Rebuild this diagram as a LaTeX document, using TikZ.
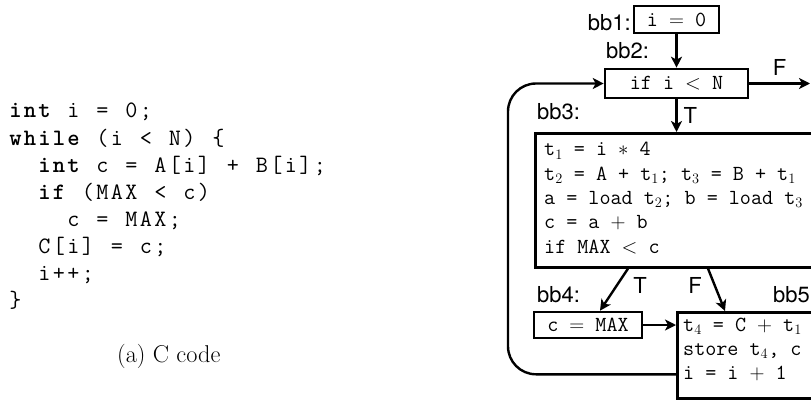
\documentclass[tikz,border=0pt]{standalone}
\usepackage{fontspec}
\usetikzlibrary{arrows.meta}
\newfontfamily\heros{TeX Gyre Heros}
\newcommand\rtt{\fontsize{21.5}{24.3}\selectfont\ttfamily}
\newcommand\lsf{\fontsize{22}{26}\selectfont\heros}
\newcommand\lcode{\fontsize{23.5}{27}\selectfont\ttfamily}
\newcommand\capfont{\fontsize{24.3}{29}\selectfont\rmfamily}
\ExplSyntaxOn
\NewDocumentCommand\fx{m}{\str_map_inline:nn{#1}{\makebox[14.5pt][c]{##1}}}
\ExplSyntaxOff
\newcommand\fb[1]{\makebox[14.5pt][c]{#1}}
\tikzset{
  bx/.style={draw, line width=2.6pt, inner sep=0pt, font=\rtt},
  lbl/.style={font=\lsf, inner sep=0pt},
  tl/.style={font=\rtt, inner sep=0pt, anchor=base west},
  cl/.style={font=\lcode, inner sep=0pt, anchor=base west},
  arr/.style={-{Stealth[length=11pt,width=11pt,inset=3pt]}, line width=2.4pt},
}
\begin{document}
\begin{tikzpicture}[x=1pt,y=-1pt]
\useasboundingbox (0,0) rectangle (811,401);
\clip (0,0) rectangle (811,401);
% C code
\node[cl] (c1) at (8,118) {\textbf{\fx{int}}\fx{ i = 0;}};
\node[cl] (c2) at (8,145.1) {\textbf{\fx{while}}\fx{ (i < N) }\fb{\{}};
\node[cl] (c3) at (37,172.2) {\textbf{\fx{int}}\fx{ c = A[i] + B[i];}};
\node[cl] (c4) at (37,199.3) {\textbf{\fx{if}}\fx{ (MAX < c)}};
\node[cl] (c5) at (66,226.4) {\fx{c = MAX;}};
\node[cl] (c6) at (37,253.5) {\fx{C[i] = c;}};
\node[cl] (c7) at (37,280.6) {\fx{i++;}};
\node[cl] (c8) at (8,307.7) {\fb{\}}};
\node[font=\capfont, inner sep=0pt, anchor=base west] (cap) at (117,362) {(a) C code};
% CFG
\node[bx, minimum width=85pt, minimum height=27pt] (bb1) at (676.5,19.5) {i $=$ 0};
\node[bx, minimum width=143pt, minimum height=29pt] (bb2) at (676.5,83.5) {if i $<$ N};
\node[bx, minimum width=282pt, minimum height=134pt, anchor=north west] (bb3) at (534,132) {};
\node[bx, minimum width=108pt, minimum height=26pt] (bb4) at (588,325) {c $=$ MAX};
\node[bx, minimum width=144pt, minimum height=86pt, anchor=north west] (bb5) at (676,311) {};
% block texts
\node[tl] (t3a) at (544,156) {t$_1$ = i $*$ 4};
\node[tl] (t3b) at (544,180.3) {t$_2$ = A + t$_1$; t$_3$ = B + t$_1$};
\node[tl] (t3c) at (544,204.6) {a = load t$_2$; b = load t$_3$};
\node[tl] (t3d) at (544,228.9) {c = a $+$ b};
\node[tl] (t3e) at (544,253.2) {if MAX $<$ c};
\node[tl] (t5a) at (683,331) {t$_4$ = C $+$ t$_1$};
\node[tl] (t5b) at (683,355.3) {store t$_4$, c};
\node[tl] (t5c) at (683,379.6) {i = i $+$ 1};
% labels
\node[lbl, anchor=base east] (l1) at (631,31) {bb1:};
\node[lbl, anchor=base west] (l2) at (606,59) {bb2:};
\node[lbl, anchor=base west] (l3) at (537,120) {bb3:};
\node[lbl, anchor=base west] (l4) at (537,302) {bb4:};
\node[lbl, anchor=base west] (l5) at (773,302) {bb5:};
% edges
\coordinate (fx) at (810,0);
\coordinate (lx) at (508,0);
\draw[arr] (bb1.south) -- (bb2.north);
\draw[arr] (bb2.east) -- (bb2.east -| fx) node[lbl, pos=0.5, above=7pt] (eF1) {F};
\draw[arr] (bb2.south) -- (bb3.north -| bb2.south) node[lbl, pos=0.5, right=6pt] (eT1) {T};
\draw[arr] ([xshift=94pt]bb3.south west) -- ([xshift=12pt]bb4.north);
\draw[arr] ([xshift=174pt]bb3.south west) -- ([xshift=49pt]bb5.north west);
\node[lbl, anchor=base] (eT2) at (640,293) {T};
\node[lbl, anchor=base] (eF2) at (695,293) {F};
\draw[arr] (bb4.east) -- (bb4.east -| bb5.west);
\draw[arr, rounded corners=28pt] ([yshift=-19pt]bb5.west) -| (lx |- bb2.west) -- (bb2.west);
\end{tikzpicture}
\end{document}
